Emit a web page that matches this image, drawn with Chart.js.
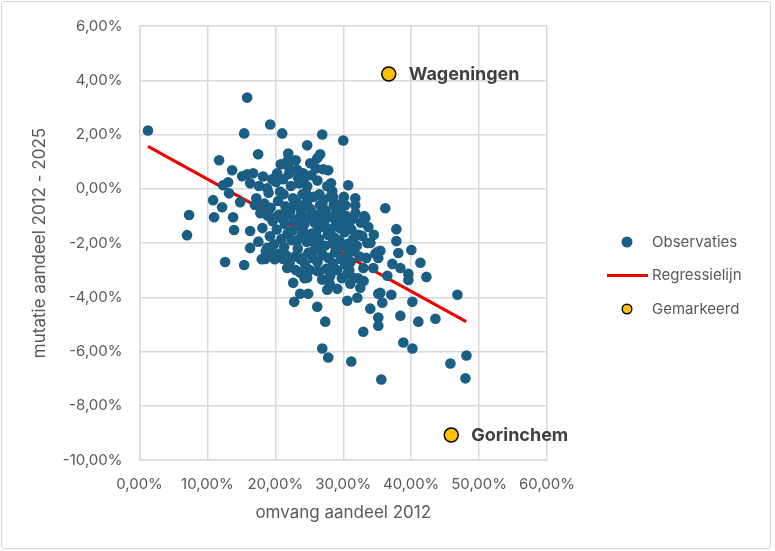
<!DOCTYPE html>
<html>
<head>
<meta charset="utf-8">
<script src="https://cdn.jsdelivr.net/npm/chart.js@4.4.1/dist/chart.umd.min.js"></script>
<style>
  html, body { margin: 0; padding: 0; background: #fff; }
  #wrap { position: relative; width: 775px; height: 551px; }
  #frame { position: absolute; left: 1px; top: 1px; width: 768px; height: 546px;
           border: 1px solid #d4d4d4; border-radius: 3px; pointer-events: none; }
</style>
</head>
<body>
<div id="wrap">
  <canvas id="scatter-chart" width="775" height="551"></canvas>
  <div id="frame"></div>
</div>
<script>
// observaties: omvang aandeel 2012 (x) en mutatie 2012-2025 (y), in procenten
const obsX = [
  1.25, 7.30, 7.00, 10.84, 10.98, 12.16, 11.72, 12.31, 13.05, 13.19,
  13.64, 13.78, 13.93, 14.82, 12.60, 15.41, 16.29, 16.29, 15.85, 15.41,
  19.24, 21.01, 17.47, 15.11, 15.85, 16.73, 16.29, 20.27, 21.75, 26.91,
  30.00, 24.69, 26.61, 26.17, 25.14, 21.89, 21.89, 27.05, 27.79, 24.10,
  21.16, 23.37, 30.74, 27.64, 28.38, 28.53, 24.69, 31.77, 31.77, 36.19,
  29.56, 30.30, 26.91, 29.56, 31.03, 33.25, 33.10, 33.69, 32.80, 33.54,
  31.48, 30.59, 28.53, 28.09, 37.82, 37.82, 40.03, 38.11, 35.46, 34.72,
  35.02, 41.36, 37.23, 38.41, 39.59, 39.59, 42.24, 34.43, 46.81, 40.18,
  35.46, 35.75, 37.08, 33.98, 38.41, 35.16, 35.16, 41.06, 43.57, 32.95,
  38.85, 40.18, 48.14, 45.78, 47.99, 35.60, 18.35, 21.16, 21.75, 23.66,
  24.69, 26.17, 28.09, 22.63, 23.66, 24.84, 22.78, 26.17, 27.64, 29.12,
  30.59, 30.59, 32.07, 31.03, 32.51, 31.48, 32.95, 35.16, 27.35, 26.91,
  27.79, 31.18, 35.16, 36.49, 18.79, 18.50, 18.79,
  17.2, 17.8, 18.1, 17.5, 18.6, 19.0, 19.3, 19.6, 19.2, 19.8,
  20.1, 20.4, 20.6, 20.2, 20.9, 20.5, 21.2, 21.5, 21.4, 21.8,
  21.3, 22.0, 22.3, 22.6, 22.2, 22.7, 22.4, 22.9, 22.1, 23.2,
  23.5, 23.1, 23.8, 23.4, 23.9, 23.3, 23.7, 24.2, 24.5, 24.3,
  24.8, 24.1, 24.6, 24.9, 24.4, 25.3, 25.6, 25.2, 25.8, 25.4,
  25.9, 25.5, 25.1, 26.2, 26.5, 26.3, 26.8, 26.4, 26.7, 26.2,
  27.1, 27.4, 27.2, 27.7, 27.3, 27.8, 27.5, 28.2, 28.6, 28.3,
  28.9, 28.4, 28.8, 28.5, 29.2, 29.5, 29.3, 29.7, 29.1, 30.1,
  30.4, 30.2, 30.7, 30.3, 31.2, 31.6, 31.1, 32.0, 32.4, 32.2,
  19.5, 20.8, 21.9, 23.0, 24.0, 26.0, 18.2, 17.0, 19.9, 21.6,
  26.9, 28.0, 29.8, 24.3, 31.8, 32.6, 33.4, 34.0, 33.0, 34.5,
  17.6, 18.4, 18.9, 18.0, 19.4, 20.0, 20.7, 21.0, 21.7, 22.5,
  22.8, 23.6, 23.2, 24.0, 24.7, 24.3, 25.0, 25.7, 25.3, 26.0,
  26.6, 26.1, 27.0, 27.6, 27.0, 28.1, 28.0, 28.7, 29.0, 29.4,
  29.9, 30.0, 30.6, 31.0, 31.4, 32.3, 30.9, 28.3, 26.5, 23.0
];
const obsY = [
  2.15, -0.97, -1.71, -0.42, -1.05, -0.68, 1.05, 0.13, 0.24, -0.17,
  0.68, -1.05, -1.52, -0.50, -2.70, -2.81, -2.18, -1.56, 3.36, 2.04,
  2.37, 2.04, 1.27, 0.46, 0.53, 0.57, 0.20, 0.57, 1.01, 2.00,
  1.78, 1.60, 1.27, 1.12, 0.94, 1.01, 0.83, 0.72, 0.68, 0.57,
  0.35, 0.39, 0.13, 0.09, -0.09, -0.31, 0.09, -0.35, -0.61, -0.72,
  -0.57, -0.61, -0.57, -0.83, -1.19, -1.08, -1.01, -1.41, -1.74, -2.00,
  -1.85, -2.04, -1.82, -1.56, -1.49, -1.93, -2.26, -2.37, -2.29, -2.40,
  -2.33, -2.73, -2.77, -2.92, -3.14, -3.36, -3.25, -2.92, -3.91, -4.17,
  -3.84, -4.20, -3.91, -4.42, -4.68, -4.75, -5.05, -4.90, -4.79, -5.27,
  -5.67, -5.89, -6.15, -6.44, -6.99, -7.03, -2.55, -2.59, -2.92, -3.10,
  -3.28, -3.03, -3.21, -3.47, -3.87, -3.87, -4.17, -4.35, -3.72, -3.69,
  -3.14, -4.13, -4.02, -3.50, -3.65, -3.28, -2.92, -3.87, -4.90, -5.89,
  -6.22, -6.37, -2.55, -3.21, 0.02, -2.59, -2.18,
  -0.35, -0.9, -1.45, -1.95, -2.3, -0.15, -0.7, -1.2, -1.75, -2.05,
  0.25, -0.45, -0.95, -1.5, -1.85, -2.4, -0.2, -0.65, -1.3, -1.65,
  -2.15, 0.55, 0.1, -0.35, -0.85, -1.15, -1.9, -2.5, -2.75, 0.7,
  0.2, -0.5, -0.8, -1.35, -1.7, -2.2, -2.6, 0.35, -0.15, -0.6,
  -1.05, -1.55, -1.95, -2.35, -2.8, 0.5, -0.3, -0.75, -1.25, -1.65,
  -2.1, -2.55, -3.0, 0.3, -0.2, -0.95, -1.4, -1.85, -2.3, -2.7,
  -0.4, -0.8, -1.2, -1.7, -2.1, -2.55, -2.95, 0.2, -0.6, -1.05,
  -1.35, -2.0, -2.35, -2.75, -1.1, -1.45, -2.2, -2.6, -3.0, -0.3,
  -1.0, -1.6, -2.4, -2.8, -1.5, -2.3, -2.7, -2.1, -2.5, -3.3,
  0.35, 0.9, 1.3, 1.05, -0.2, 0.75, 0.45, -0.6, -2.6, -2.45,
  -3.35, -3.5, -3.3, -3.3, -0.9, -1.25, -2.55, -2.0, -3.4, -1.7,
  0.1, -0.55, -1.0, -2.6, -2.35, -1.05, -0.1, -1.1, -0.95, -1.55,
  -0.6, -1.05, -1.9, -2.55, -0.45, -1.3, -1.85, -1.0, -2.35, -1.6,
  -0.6, -2.1, -1.0, -1.45, -2.45, -0.3, -1.6, -1.8, -0.8, -1.9,
  -1.2, -2.1, -1.3, -2.0, -1.1, -1.7, -3.0, -3.05, -3.05, -3.0
];

// regressielijn (begin- en eindpunt)
const regX = [1.25, 48.1];
const regY = [1.56, -4.9];

// gemarkeerde gemeenten
const markNames = ['Wageningen', 'Gorinchem'];
const markX = [36.7, 45.9];
const markY = [4.23, -9.08];

const legendNames = ['Observaties', 'Regressielijn', 'Gemarkeerd'];

const FONT = 'Inter, "Open Sans", sans-serif';
const GREY = '#595959';
const GRID = '#d9d9d9';
const BLUE = '#1b5e83';
const RED = '#ee0000';
const GOLD = '#ffc000';

function pct(v) {
    return v.toFixed(2).replace('.', ',') + '%';
}

// labels naast de gemarkeerde punten
const markLabels = {
    id: 'markLabels',
    afterDatasetsDraw(chart) {
        const ctx = chart.ctx;
        const meta = chart.getDatasetMeta(2);
        ctx.save();
        ctx.font = 'bold 18px ' + FONT;
        ctx.fillStyle = '#404040';
        ctx.textBaseline = 'middle';
        meta.data.forEach((pt, i) => ctx.fillText(markNames[i], pt.x + 20, pt.y + 1));
        ctx.restore();
    }
};

// legenda rechts van het plotvlak, verticaal gecentreerd
const sideLegend = {
    id: 'sideLegend',
    afterDraw(chart) {
        const ctx = chart.ctx;
        const left = chart.chartArea.right + 60;
        const mid = chart.height / 2;
        ctx.save();
        ctx.font = '15px ' + FONT;
        ctx.textBaseline = 'middle';
        legendNames.forEach((name, i) => {
            const y = mid + (i - 1) * 33.5;
            if (i === 1) {
                ctx.fillStyle = RED;
                ctx.fillRect(left, y - 1.5, 41, 3);
            } else {
                ctx.beginPath();
                ctx.arc(left + 20, y, i === 0 ? 5.5 : 4.8, 0, Math.PI * 2);
                ctx.fillStyle = i === 0 ? BLUE : GOLD;
                ctx.fill();
                if (i === 2) { ctx.lineWidth = 1.4; ctx.strokeStyle = '#000'; ctx.stroke(); }
            }
            ctx.fillStyle = GREY;
            ctx.fillText(name, left + 45, y);
        });
        ctx.restore();
    }
};

new Chart(document.getElementById('scatter-chart'), {
    type: 'scatter',
    data: {
        datasets: [{
            label: legendNames[0],
            data: obsX.map((x, i) => ({ x: x, y: obsY[i] })),
            backgroundColor: BLUE,
            borderWidth: 0,
            pointRadius: 5.3,
            order: 1
        }, {
            label: legendNames[1],
            type: 'line',
            data: regX.map((x, i) => ({ x: x, y: regY[i] })),
            borderColor: RED,
            borderWidth: 3,
            pointRadius: 0,
            fill: false,
            order: 2
        }, {
            label: legendNames[2],
            data: markX.map((x, i) => ({ x: x, y: markY[i] })),
            backgroundColor: GOLD,
            borderColor: '#000',
            borderWidth: 1.5,
            pointRadius: 7,
            order: 0
        }]
    },
    options: {
        responsive: false,
        animation: false,
        layout: { padding: { left: 25.8, top: 24, bottom: 24, right: 228 } },
        scales: {
            x: {
                type: 'linear',
                min: 0, max: 60,
                ticks: { stepSize: 10, padding: 15, color: GREY, font: { family: FONT, size: 15 }, callback: pct },
                grid: { color: GRID, lineWidth: 1.5, drawTicks: false },
                border: { color: GRID, width: 1.5 },
                title: { display: true, text: 'omvang aandeel 2012', color: GREY,
                         font: { family: FONT, size: 17 }, padding: { top: 4, bottom: 4 } },
                afterFit: s => { s.height = 67; }
            },
            y: {
                min: -10, max: 6,
                ticks: { stepSize: 2, padding: 17, color: GREY, font: { family: FONT, size: 15 }, callback: pct },
                grid: { color: GRID, lineWidth: 1.5, drawTicks: false },
                border: { color: GRID, width: 1.5 },
                title: { display: true, text: 'mutatie aandeel 2012 - 2025', color: GREY,
                         font: { family: FONT, size: 17 }, padding: { top: 4, bottom: 4 } },
                afterFit: s => { s.width = 113.7; }
            }
        },
        plugins: {
            tooltip: { enabled: false },
            legend: { display: false }
        }
    },
    plugins: [markLabels, sideLegend]
});
</script>
</body>
</html>
